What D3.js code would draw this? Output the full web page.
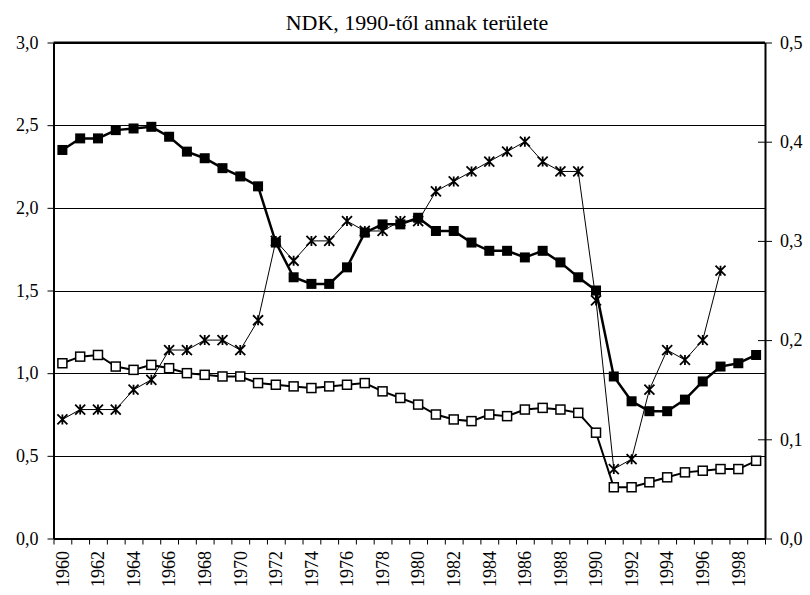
<!DOCTYPE html>
<html><head><meta charset="utf-8">
<script src="https://cdn.jsdelivr.net/npm/d3@7"></script>
<style>body{margin:0;background:#fff}svg{display:block}svg text{font-family:'Liberation Serif','Times New Roman','DejaVu Serif',serif !important;fill:#000}</style>
</head><body>
<svg id="c" width="810" height="595"></svg>
<script>
const years = d3.range(1960, 2000);
const seriesFilled = [2.35,2.42,2.42,2.47,2.48,2.49,2.43,2.34,2.30,2.24,2.19,2.13,1.79,1.58,1.54,1.54,1.64,1.85,1.90,1.90,1.94,1.86,1.86,1.79,1.74,1.74,1.70,1.74,1.67,1.58,1.50,0.98,0.83,0.77,0.77,0.84,0.95,1.04,1.06,1.11];
const seriesOpen = [1.06,1.10,1.11,1.04,1.02,1.05,1.03,1.00,0.99,0.98,0.98,0.94,0.93,0.92,0.91,0.92,0.93,0.94,0.89,0.85,0.81,0.75,0.72,0.71,0.75,0.74,0.78,0.79,0.78,0.76,0.64,0.31,0.31,0.34,0.37,0.40,0.41,0.42,0.42,0.47];
const seriesStar = [0.12,0.13,0.13,0.13,0.15,0.16,0.19,0.19,0.20,0.20,0.19,0.22,0.30,0.28,0.30,0.30,0.32,0.31,0.31,0.32,0.32,0.35,0.36,0.37,0.38,0.39,0.40,0.38,0.37,0.37,0.24,0.07,0.08,0.15,0.19,0.18,0.20,0.27,null,null];
const leftTicks = [0,0.5,1.0,1.5,2.0,2.5,3.0];
const rightTicks = [0,0.1,0.2,0.3,0.4,0.5];
const yearLabels = d3.range(1960, 2000, 2);
const title = "NDK, 1990-től annak területe";

const FONT = "'Liberation Serif','Times New Roman','DejaVu Serif',serif";
const svg = d3.select("#c");
const L = 53.5, R = 765, T = 42.5, B = 538.5;
const x = d3.scaleLinear().domain([1960, 2000]).range([L, R]);
const yL = d3.scaleLinear().domain([0, 3]).range([B, T]);
const yR = d3.scaleLinear().domain([0, 0.5]).range([B, T]);
const fmt = v => d3.format(".1f")(v).replace(".", ",");
const cx = yr => x(yr + 0.5);

// gridlines
svg.append("g").selectAll("line").data(leftTicks.slice(1)).join("line")
  .attr("x1", L).attr("x2", R).attr("y1", d => Math.round(yL(d)) + 0.5).attr("y2", d => Math.round(yL(d)) + 0.5)
  .attr("stroke", "#000").attr("stroke-width", 1);
svg.append("line").attr("x1", L).attr("x2", R).attr("y1", T).attr("y2", T).attr("stroke", "#000").attr("stroke-width", 2);

// left axis
const gl = svg.append("g").attr("transform", `translate(${L},0)`)
  .call(d3.axisLeft(yL).tickValues(leftTicks).tickFormat(fmt).tickSize(6).tickSizeOuter(0).tickPadding(9));
gl.attr("font-family", FONT).attr("font-size", 18);
gl.select(".domain").attr("stroke-width", 2);

// right axis
const gr = svg.append("g").attr("transform", `translate(${R},0)`)
  .call(d3.axisRight(yR).tickValues(rightTicks).tickFormat(fmt).tickSize(7).tickSizeOuter(0).tickPadding(8));
gr.attr("font-family", FONT).attr("font-size", 18);
gr.select(".domain").attr("stroke-width", 2);
gr.selectAll(".tick line").attr("x1", -7);

// bottom axis
const gb = svg.append("g").attr("transform", `translate(0,${B})`)
  .call(d3.axisBottom(x).tickValues(d3.range(1960, 2001)).tickFormat("").tickSize(6).tickSizeOuter(0));
gb.select(".domain").attr("stroke-width", 2);
svg.append("g").attr("font-family", FONT).attr("font-size", 18)
  .selectAll("text").data(yearLabels).join("text")
  .attr("transform", d => `translate(${cx(d)},551) rotate(-90)`)
  .attr("text-anchor", "end").attr("dy", "0.35em").text(d => d);

// title
svg.append("text").attr("font-family", FONT).attr("x", 417).attr("y", 30).attr("text-anchor", "middle").attr("font-size", 22).text(title);

const pts = (arr) => years.map((yr, i) => ({yr, v: arr[i]}));
const lineL = d3.line().defined(d => d.v != null).x(d => cx(d.yr)).y(d => yL(d.v));
const lineR = d3.line().defined(d => d.v != null).x(d => cx(d.yr)).y(d => yR(d.v));

svg.append("path").attr("d", lineL(pts(seriesFilled))).attr("fill", "none").attr("stroke", "#000").attr("stroke-width", 2.5);
svg.append("g").selectAll("rect").data(pts(seriesFilled)).join("rect")
  .attr("x", d => cx(d.yr) - 5).attr("y", d => yL(d.v) - 5).attr("width", 10).attr("height", 10).attr("fill", "#000");

svg.append("path").attr("d", lineL(pts(seriesOpen))).attr("fill", "none").attr("stroke", "#000").attr("stroke-width", 2);
svg.append("g").selectAll("rect").data(pts(seriesOpen)).join("rect")
  .attr("x", d => cx(d.yr) - 4.5).attr("y", d => yL(d.v) - 4.5).attr("width", 9).attr("height", 9)
  .attr("fill", "#fff").attr("stroke", "#000").attr("stroke-width", 1.5);

svg.append("path").attr("d", lineR(pts(seriesStar))).attr("fill", "none").attr("stroke", "#000").attr("stroke-width", 1);
const s = 5;
svg.append("g").selectAll("path").data(pts(seriesStar).filter(d => d.v != null)).join("path")
  .attr("d", d => { const X = cx(d.yr), Y = yR(d.v);
    return `M${X-s},${Y-s}L${X+s},${Y+s}M${X-s},${Y+s}L${X+s},${Y-s}M${X},${Y-s}L${X},${Y+s}`; })
  .attr("stroke", "#000").attr("stroke-width", 1.8).attr("fill", "none");
</script>
</body></html>
